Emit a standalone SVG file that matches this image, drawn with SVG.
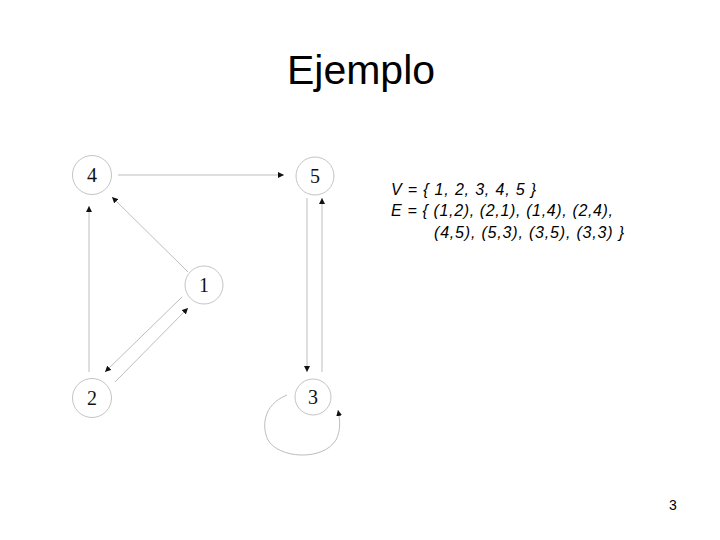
<svg xmlns="http://www.w3.org/2000/svg" width="720" height="540" viewBox="0 0 720 540">
<style>
.node circle{fill:#fff;stroke:#c4c4c4;stroke-width:1}
.node text{font-family:"Liberation Serif",serif;font-size:20px;fill:#111;text-anchor:middle}
.edge{fill:none;stroke:#bdbdbd;stroke-width:1}
.set{font-family:"Liberation Sans",Arial,sans-serif;font-style:italic;font-size:16px;fill:#000}
</style>
<defs>
<marker id="ah" markerUnits="userSpaceOnUse" markerWidth="7" markerHeight="6" refX="6" refY="3" orient="auto">
<path d="M0,0 L6,3 L0,6 Z" fill="#111"/>
</marker>
</defs>
<rect width="720" height="540" fill="#fff"/>
<text x="361" y="84" font-family="'Liberation Sans',Arial,sans-serif" font-size="41" text-anchor="middle" fill="#000">Ejemplo</text>
<g id="connectors">
<path class="edge" d="M118,175 L284,175" marker-end="url(#ah)"/>
<path class="edge" d="M188,272 L112,197" marker-end="url(#ah)"/>
<path class="edge" d="M89,372 L89,206" marker-end="url(#ah)"/>
<path class="edge" d="M182,297 L105,372" marker-end="url(#ah)"/>
<path class="edge" d="M115,382 L188,308" marker-end="url(#ah)"/>
<path class="edge" d="M307,198 L307,372" marker-end="url(#ah)"/>
<path class="edge" d="M322,372 L322,198" marker-end="url(#ah)"/>
<path class="edge" d="M287,395 C262,405 262,428 268,440 C278,458 322,462 336,440 C341,430 340,420 338,410" marker-end="url(#ah)"/>
</g>
<g id="n4" class="node"><circle cx="92" cy="175" r="19.5"/><text x="92" y="182">4</text></g>
<g id="n5" class="node"><circle cx="315" cy="176" r="19"/><text x="315" y="183">5</text></g>
<g id="n1" class="node"><circle cx="204" cy="285" r="19"/><text x="204" y="292">1</text></g>
<g id="n2" class="node"><circle cx="92" cy="398" r="19.5"/><text x="92" y="405">2</text></g>
<g id="n3" class="node"><circle cx="313" cy="397" r="18"/><text x="313" y="404">3</text></g>
<text class="set" x="391" y="195" textLength="145" lengthAdjust="spacing">V = { 1, 2, 3, 4, 5 }</text>
<text class="set" x="391" y="216" textLength="222" lengthAdjust="spacing">E = { (1,2), (2,1), (1,4), (2,4),</text>
<text class="set" x="434" y="238" textLength="190" lengthAdjust="spacing">(4,5), (5,3), (3,5), (3,3) }</text>
<text x="673" y="510" font-family="'Liberation Sans',Arial,sans-serif" font-size="14" text-anchor="middle" fill="#000">3</text>
</svg>
